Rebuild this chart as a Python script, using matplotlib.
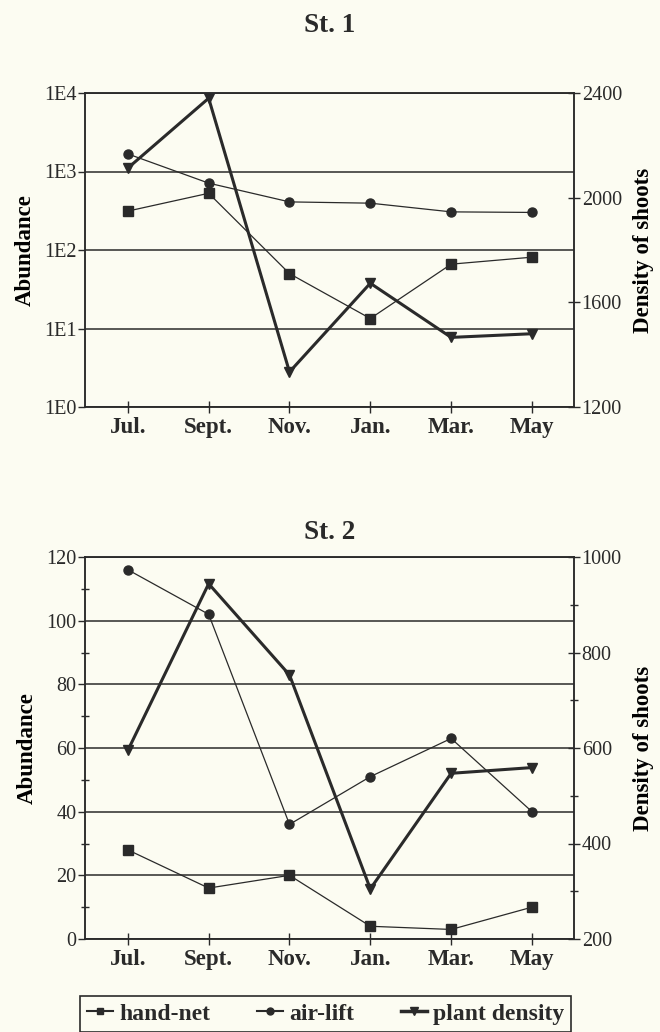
#!/usr/bin/env python3
"""Seasonal abundance (hand-net / air-lift) and plant density, stations 1 and 2."""
import matplotlib
matplotlib.use("Agg")
import matplotlib.pyplot as plt
import matplotlib.ticker as ticker
from matplotlib.lines import Line2D
import numpy as np

MONTHS = ["Jul.", "Sept.", "Nov.", "Jan.", "Mar.", "May"]

# St. 1 (log abundance, left axis; shoots, right axis)
ST1_HAND_NET = [313, 528, 50, 13.4, 66, 81]
ST1_AIR_LIFT = [1675, 711, 410, 395, 306, 301]
ST1_PLANT = [2113, 2380, 1334, 1673, 1466, 1480]

# St. 2 (linear abundance)
ST2_HAND_NET = [28, 16, 20, 4, 3, 10]
ST2_AIR_LIFT = [116, 102, 36, 51, 63, 40]
ST2_PLANT = [595, 944, 753, 305, 547, 559]

ST1_LEFT_TICKS = [1, 10, 100, 1000, 10000]
ST1_LEFT_LABELS = ["1E0", "1E1", "1E2", "1E3", "1E4"]
ST1_RIGHT_TICKS = [1200, 1600, 2000, 2400]
ST2_LEFT_TICKS = [0, 20, 40, 60, 80, 100, 120]
ST2_RIGHT_TICKS = [200, 400, 600, 800, 1000]

BG = "#fcfcf2"
INK = "#2a2a2a"
SERIF = ["Liberation Serif", "DejaVu Serif"]

plt.rcParams.update({
    "font.family": SERIF,
    "axes.linewidth": 1.1,
    "axes.edgecolor": INK,
    "xtick.color": INK,
    "ytick.color": INK,
    "text.color": INK,
})

W, H = 660, 1032
fig = plt.figure(figsize=(W / 100, H / 100), dpi=100, facecolor=BG)


def frac(x0, y0, x1, y1):
    return [x0 / W, 1 - y1 / H, (x1 - x0) / W, (y1 - y0) / H]


def draw_series(ax, ax2, x, hand, air, plant):
    ax.plot(x, hand, color=INK, lw=0.9, marker="s", ms=6.5, zorder=3)
    ax.plot(x, air, color=INK, lw=0.9, marker="o", ms=6.5, zorder=3)
    ax2.plot(x, plant, color=INK, lw=2.2, marker="v", ms=7, zorder=3)


def style_common(ax, ax2):
    ax.set_facecolor(BG)
    ax.set_xlim(-0.53, 5.52)
    ax.set_xticks(np.arange(len(MONTHS)))
    ax.set_xticklabels(MONTHS, fontsize=16.5, fontweight="bold")
    ax.tick_params(axis="x", direction="inout", length=9, width=1.0, pad=3)
    ax.tick_params(axis="y", which="major", direction="out", length=5,
                   width=1.0, labelsize=14.5, pad=1)
    ax.yaxis.grid(True, which="major", color=INK, lw=1.1)
    ax.set_axisbelow(True)
    ax.set_ylabel("Abundance", fontsize=16.5, fontweight="bold", labelpad=6)
    ax2.tick_params(axis="y", which="major", direction="inout", length=9,
                    width=1.0, labelsize=14.5, pad=1)
    ax2.set_ylabel("Density of shoots", fontsize=16.5, fontweight="bold",
                   labelpad=8)
    for sp in ax.spines.values():
        sp.set_linewidth(1.1)


x = np.arange(len(MONTHS))

# ── St. 1 ───────────────────────────────────────────────────────────────────
ax1 = fig.add_axes(frac(85, 93, 574, 407))
ax1b = ax1.twinx()
draw_series(ax1, ax1b, x, ST1_HAND_NET, ST1_AIR_LIFT, ST1_PLANT)
ax1.set_yscale("log")
ax1.set_ylim(1, 10000)
ax1.set_yticks(ST1_LEFT_TICKS)
ax1.set_yticklabels(ST1_LEFT_LABELS)
ax1.yaxis.set_minor_locator(ticker.NullLocator())
ax1b.set_ylim(1200, 2400)
ax1b.set_yticks(ST1_RIGHT_TICKS)
style_common(ax1, ax1b)
ax1.set_title("St. 1", fontsize=19.5, fontweight="bold", pad=44)

# ── St. 2 ───────────────────────────────────────────────────────────────────
ax2 = fig.add_axes(frac(85, 557, 574, 939))
ax2b = ax2.twinx()
draw_series(ax2, ax2b, x, ST2_HAND_NET, ST2_AIR_LIFT, ST2_PLANT)
ax2.set_ylim(0, 120)
ax2.set_yticks(ST2_LEFT_TICKS)
ax2.yaxis.set_minor_locator(ticker.MultipleLocator(10))
ax2.tick_params(axis="y", which="minor", direction="inout", length=6, width=1.0)
ax2b.set_ylim(200, 1000)
ax2b.set_yticks(ST2_RIGHT_TICKS)
ax2b.yaxis.set_minor_locator(ticker.MultipleLocator(100))
ax2b.tick_params(axis="y", which="minor", direction="inout", length=6, width=1.0)
style_common(ax2, ax2b)
ax2.set_title("St. 2", fontsize=19.5, fontweight="bold", pad=13)

# ── legend ──────────────────────────────────────────────────────────────────
handles = [
    Line2D([], [], color=INK, lw=1.5, marker="s", ms=5),
    Line2D([], [], color=INK, lw=1.5, marker="o", ms=5),
    Line2D([], [], color=INK, lw=2.5, marker="v", ms=6),
]
leg = fig.legend(handles, ["hand-net", "air-lift", "plant density"],
                 loc="upper left", bbox_to_anchor=(80 / W, 1 - 996 / H),
                 ncol=3, frameon=True, fancybox=False,
                 edgecolor=INK, facecolor=BG, framealpha=1,
                 prop={"family": SERIF, "weight": "bold", "size": 17},
                 handlelength=1.1, handletextpad=0.25, columnspacing=2.0,
                 borderpad=0.3, borderaxespad=0)
leg.get_frame().set_linewidth(1.2)

fig.savefig("out.png", dpi=100, facecolor=BG)
